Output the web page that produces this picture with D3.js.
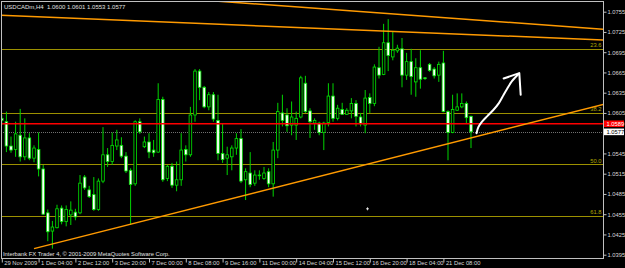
<!DOCTYPE html>
<html>
<head>
<meta charset="utf-8">
<script src="https://cdn.jsdelivr.net/npm/d3@7"></script>
<style>
html, body { margin: 0; padding: 0; background: #000; }
svg { display: block; }
text { font-family: 'Liberation Sans', Arial, sans-serif; }
</style>
</head>
<body>
<div id="chart"></div>
<script>
var symbol = 'USDCADm,H4';

// H4 bars, 29 Nov 2009 20:00 .. 21 Dec 2009
var opens = [
  1.0597, 1.0592, 1.0556, 1.0551, 1.0572, 1.0540, 1.0568, 1.0538, 1.0551, 1.0522,
  1.0457, 1.0430, 1.0435, 1.0464, 1.0444, 1.0454, 1.0458, 1.0457, 1.0510, 1.0491,
  1.0484, 1.0462, 1.0504, 1.0543, 1.0533, 1.0556, 1.0557, 1.0541, 1.0520, 1.0500,
  1.0592, 1.0555, 1.0562, 1.0550, 1.0547, 1.0625, 1.0508, 1.0526, 1.0498, 1.0506,
  1.0551, 1.0543, 1.0602, 1.0667, 1.0643, 1.0614, 1.0632, 1.0594, 1.0545, 1.0538,
  1.0540, 1.0553, 1.0567, 1.0506, 1.0516, 1.0501, 1.0513, 1.0508, 1.0518, 1.0500,
  1.0550, 1.0605, 1.0602, 1.0587, 1.0587, 1.0599, 1.0649, 1.0608, 1.0590, 1.0590,
  1.0576, 1.0591, 1.0630, 1.0597, 1.0610, 1.0603, 1.0608, 1.0619, 1.0599, 1.0587,
  1.0628, 1.0619, 1.0672, 1.0662, 1.0709, 1.0688, 1.0697, 1.0700, 1.0661, 1.0681,
  1.0651, 1.0672, 1.0657, 1.0677, 1.0670, 1.0661, 1.0679, 1.0607, 1.0576, 1.0609,
  1.0614, 1.0619, 1.0600
];
var highs = [
  1.0602, 1.0607, 1.0570, 1.0592, 1.0611, 1.0597, 1.0575, 1.0557, 1.0576, 1.0528,
  1.0462, 1.0445, 1.0469, 1.0468, 1.0468, 1.0474, 1.0463, 1.0513, 1.0513, 1.0497,
  1.0510, 1.0508, 1.0584, 1.0553, 1.0576, 1.0580, 1.0569, 1.0547, 1.0523, 1.0594,
  1.0597, 1.0570, 1.0575, 1.0565, 1.0649, 1.0629, 1.0528, 1.0531, 1.0533, 1.0575,
  1.0557, 1.0614, 1.0670, 1.0670, 1.0645, 1.0636, 1.0636, 1.0632, 1.0590, 1.0555,
  1.0557, 1.0575, 1.0581, 1.0523, 1.0547, 1.0520, 1.0520, 1.0525, 1.0523, 1.0562,
  1.0620, 1.0632, 1.0612, 1.0622, 1.0607, 1.0660, 1.0660, 1.0612, 1.0597, 1.0592,
  1.0592, 1.0649, 1.0649, 1.0617, 1.0620, 1.0612, 1.0627, 1.0624, 1.0605, 1.0639,
  1.0634, 1.0677, 1.0703, 1.0737, 1.0744, 1.0725, 1.0706, 1.0716, 1.0694, 1.0700,
  1.0686, 1.0698, 1.0658, 1.0679, 1.0673, 1.0681, 1.0697, 1.0609, 1.0632, 1.0634,
  1.0634, 1.0622, 1.0601
];
var lows = [
  1.0587, 1.0547, 1.0546, 1.0540, 1.0533, 1.0535, 1.0535, 1.0532, 1.0511, 1.0454,
  1.0415, 1.0404, 1.0434, 1.0440, 1.0437, 1.0439, 1.0446, 1.0455, 1.0491, 1.0479,
  1.0460, 1.0460, 1.0501, 1.0525, 1.0528, 1.0550, 1.0538, 1.0516, 1.0439, 1.0497,
  1.0574, 1.0553, 1.0538, 1.0540, 1.0546, 1.0503, 1.0504, 1.0494, 1.0489, 1.0497,
  1.0533, 1.0540, 1.0592, 1.0624, 1.0612, 1.0609, 1.0592, 1.0535, 1.0531, 1.0513,
  1.0520, 1.0543, 1.0501, 1.0476, 1.0495, 1.0497, 1.0506, 1.0506, 1.0495, 1.0481,
  1.0538, 1.0585, 1.0577, 1.0572, 1.0565, 1.0597, 1.0605, 1.0568, 1.0580, 1.0572,
  1.0550, 1.0585, 1.0592, 1.0594, 1.0602, 1.0602, 1.0597, 1.0585, 1.0585, 1.0575,
  1.0605, 1.0615, 1.0656, 1.0661, 1.0667, 1.0683, 1.0694, 1.0643, 1.0654, 1.0632,
  1.0629, 1.0641, 1.0654, 1.0666, 1.0656, 1.0651, 1.0606, 1.0535, 1.0575, 1.0608,
  1.0612, 1.0590, 1.0553
];
var closes = [
  1.0594, 1.0556, 1.0550, 1.0574, 1.0540, 1.0568, 1.0538, 1.0553, 1.0522, 1.0455,
  1.0429, 1.0436, 1.0463, 1.0444, 1.0462, 1.0461, 1.0451, 1.0501, 1.0494, 1.0481,
  1.0462, 1.0504, 1.0543, 1.0533, 1.0557, 1.0565, 1.0541, 1.0519, 1.0499, 1.0592,
  1.0577, 1.0562, 1.0547, 1.0546, 1.0625, 1.0506, 1.0526, 1.0498, 1.0506, 1.0550,
  1.0543, 1.0602, 1.0667, 1.0643, 1.0614, 1.0632, 1.0596, 1.0545, 1.0536, 1.0543,
  1.0553, 1.0567, 1.0504, 1.0518, 1.0499, 1.0513, 1.0512, 1.0516, 1.0500, 1.0550,
  1.0607, 1.0594, 1.0586, 1.0599, 1.0597, 1.0657, 1.0607, 1.0592, 1.0594, 1.0576,
  1.0590, 1.0630, 1.0597, 1.0612, 1.0603, 1.0609, 1.0619, 1.0600, 1.0589, 1.0627,
  1.0619, 1.0673, 1.0661, 1.0709, 1.0690, 1.0698, 1.0701, 1.0661, 1.0681, 1.0659,
  1.0672, 1.0655, 1.0656, 1.0668, 1.0660, 1.0677, 1.0607, 1.0576, 1.0610, 1.0614,
  1.0619, 1.0598, 1.0577
];

var timeTicks = [0, 8, 16, 24, 32, 40, 48, 56, 64, 72, 80, 88, 96];
var timeLabels = [
  '29 Nov 2009', '1 Dec 04:00', '2 Dec 12:00', '3 Dec 20:00', '7 Dec 00:00',
  '8 Dec 08:00', '9 Dec 16:00', '11 Dec 00:00', '14 Dec 04:00', '15 Dec 12:00',
  '16 Dec 20:00', '18 Dec 04:00', '21 Dec 08:00'
];
var priceTicks = [
  1.0755, 1.0725, 1.0695, 1.0665, 1.0635, 1.0605,
  1.0545, 1.0515, 1.0485, 1.0455, 1.0425, 1.0395
];

var fibLevels = [1.0700, 1.0605, 1.0529, 1.0453];
var fibLabels = ['23.6', '38.2', '50.0', '61.8'];
var alertLevel = 1.0589;
var bidLevel = 1.0577;

// trend lines as [bar, price] pairs
var trendLines = [
  [[40, 1.0774], [131, 1.0729]],
  [[-1, 1.0750], [131, 1.0713]],
  [[7, 1.0404], [131, 1.0618]]
];
// hand drawn arrow
var arrowShaft = [
  [103.2, 1.0575], [103.6, 1.0584], [104.4, 1.0592], [105.5, 1.0600], [106.8, 1.0609],
  [108.1, 1.0620], [109.1, 1.0632], [109.8, 1.0640], [110.9, 1.0652], [112.4, 1.0663]
];
var arrowHead = [[109.1, 1.0656], [112.5, 1.0664], [112.8, 1.0632]];
var cursorMark = [79.5, 1.0463];

var W = 625, H = 268;
var plot = { left: 1, top: 1, right: 603, bottom: 258 };

var x = d3.scaleLinear().domain([0, 130.5]).range([1.8, 602.1]);
var y = d3.scaleLinear().domain([1.0395, 1.0755]).range([254.7, 11.7]);
function crisp(v) { return Math.round(v) + 0.5; }

var svg = d3
  .select('#chart')
  .append('svg')
  .attr('width', W)
  .attr('height', H)
  .style('background', '#000');

svg
  .append('clipPath')
  .attr('id', 'plot-clip')
  .append('rect')
  .attr('x', plot.left)
  .attr('y', plot.top)
  .attr('width', plot.right - plot.left)
  .attr('height', plot.bottom - plot.top);

var g = svg.append('g').attr('clip-path', 'url(#plot-clip)');

// bid line
g.append('line')
  .attr('x1', plot.left)
  .attr('x2', plot.right)
  .attr('y1', crisp(y(bidLevel)))
  .attr('y2', crisp(y(bidLevel)))
  .attr('stroke', '#707070')
  .attr('stroke-dasharray', '1,1');

// fibo levels
g.selectAll('.fib')
  .data(fibLevels)
  .enter()
  .append('line')
  .attr('class', 'fib')
  .attr('x1', plot.left)
  .attr('x2', plot.right)
  .attr('y1', function(d) { return crisp(y(d)); })
  .attr('y2', function(d) { return crisp(y(d)); })
  .attr('stroke', '#9c9000')
  .attr('stroke-width', 1);

g.selectAll('.fib-label')
  .data(fibLevels)
  .enter()
  .append('text')
  .attr('class', 'fib-label')
  .attr('x', 601.5)
  .attr('y', function(d) { return y(d) - 1.6; })
  .attr('text-anchor', 'end')
  .attr('font-size', 5.8)
  .attr('fill', '#b0a800')
  .text(function(d, i) { return fibLabels[i]; });

// candles
var idx = d3.range(opens.length);
g.selectAll('.wick')
  .data(idx)
  .enter()
  .append('line')
  .attr('class', 'wick')
  .attr('x1', function(i) { return x(i); })
  .attr('x2', function(i) { return x(i); })
  .attr('y1', function(i) { return y(highs[i]); })
  .attr('y2', function(i) { return y(lows[i]); })
  .attr('stroke', '#00d400')
  .attr('stroke-width', 1);

g.selectAll('.body')
  .data(idx)
  .enter()
  .append('rect')
  .attr('class', 'body')
  .attr('x', function(i) { return x(i) - 1.3; })
  .attr('width', 2.6)
  .attr('y', function(i) { return y(Math.max(opens[i], closes[i])); })
  .attr('height', function(i) {
    return Math.max(0.7, Math.abs(y(opens[i]) - y(closes[i])));
  })
  .attr('fill', function(i) { return opens[i] > closes[i] ? '#ffffff' : '#000000'; })
  .attr('stroke', '#00e600')
  .attr('stroke-width', 0.8);

// alert line
g.append('line')
  .attr('x1', plot.left)
  .attr('x2', plot.right)
  .attr('y1', y(alertLevel))
  .attr('y2', y(alertLevel))
  .attr('stroke', '#ff0000')
  .attr('stroke-width', 1.6);

// trend lines
var priceLine = d3
  .line()
  .x(function(d) { return x(d[0]); })
  .y(function(d) { return y(d[1]); });

g.selectAll('.trend')
  .data(trendLines)
  .enter()
  .append('path')
  .attr('class', 'trend')
  .attr('d', priceLine)
  .attr('fill', 'none')
  .attr('stroke', '#ff9a00')
  .attr('stroke-width', 1.5);

// arrow
g.append('path')
  .datum(arrowShaft)
  .attr('d', priceLine.curve(d3.curveCatmullRom))
  .attr('fill', 'none')
  .attr('stroke', '#ffffff')
  .attr('stroke-width', 2)
  .attr('stroke-linecap', 'round');
g.append('path')
  .datum(arrowHead)
  .attr('d', priceLine.curve(d3.curveLinear))
  .attr('fill', 'none')
  .attr('stroke', '#ffffff')
  .attr('stroke-width', 2)
  .attr('stroke-linecap', 'round')
  .attr('stroke-linejoin', 'round');

// stray cursor mark
g.append('path')
  .attr('d', 'M' + (x(cursorMark[0]) - 1.5) + ',' + y(cursorMark[1]) + 'h3' +
    'M' + x(cursorMark[0]) + ',' + (y(cursorMark[1]) - 1.5) + 'v3')
  .attr('stroke', '#ffffff')
  .attr('stroke-width', 0.8);

// frame
svg.append('rect')
  .attr('x', plot.left + 0.5)
  .attr('y', plot.top + 0.5)
  .attr('width', plot.right - plot.left)
  .attr('height', plot.bottom - plot.top)
  .attr('fill', 'none')
  .attr('stroke', '#c0c0c0')
  .attr('shape-rendering', 'crispEdges');

// price axis
var yAxis = d3
  .axisRight(y)
  .tickValues(priceTicks)
  .tickSize(3)
  .tickPadding(1)
  .tickFormat(d3.format('.4f'));
var ya = svg
  .append('g')
  .attr('transform', 'translate(' + (plot.right + 0.5) + ',0)')
  .call(yAxis);
ya.select('.domain').remove();
ya.selectAll('line').attr('stroke', '#c0c0c0');
ya.selectAll('text')
  .attr('fill', '#d8d8d8')
  .attr('font-size', 5.8)
  .attr('font-family', "'Liberation Sans', Arial, sans-serif");

// time axis
var xAxis = d3
  .axisBottom(x)
  .tickValues(timeTicks)
  .tickSize(4)
  .tickFormat(function(d, i) { return timeLabels[i]; });
var xa = svg
  .append('g')
  .attr('transform', 'translate(0,' + (plot.bottom + 0.5) + ')')
  .call(xAxis);
xa.select('.domain').remove();
xa.selectAll('line').attr('stroke', '#c0c0c0');
xa.selectAll('text')
  .attr('text-anchor', 'start')
  .attr('x', 2)
  .attr('y', 2.2)
  .attr('fill', '#d8d8d8')
  .attr('font-size', 5.8)
  .attr('font-family', "'Liberation Sans', Arial, sans-serif");

// price labels on the axis
function axisTag(level, bg, fg) {
  var tag = svg.append('g').attr('transform', 'translate(604,' + y(level) + ')');
  tag.append('rect')
    .attr('x', 0)
    .attr('y', -3.3)
    .attr('width', 20)
    .attr('height', 6.6)
    .attr('fill', bg);
  tag.append('text')
    .attr('x', 2.5)
    .attr('y', 2.1)
    .attr('font-size', 5.8)
    .attr('fill', fg)
    .text(d3.format('.4f')(level));
}
axisTag(alertLevel, '#ff0000', '#ffffff');
axisTag(bidLevel, '#ffffff', '#000000');

// header and copyright
var last = opens.length - 1;
svg.append('text')
  .attr('x', 4)
  .attr('y', 8.5)
  .attr('font-size', 6)
  .attr('fill', '#e0e0e0')
  .text(symbol + '\u00a0\u00a0' + [opens[last], highs[last], lows[last], closes[last]]
    .map(d3.format('.4f')).join('\u00a0'));

svg.append('text')
  .attr('x', 3)
  .attr('y', 255.5)
  .attr('font-size', 5.8)
  .attr('fill', '#e0e0e0')
  .text('Interbank FX Trader 4, \u00a9 2001-2009 MetaQuotes Software Corp.');
</script>
</body>
</html>
